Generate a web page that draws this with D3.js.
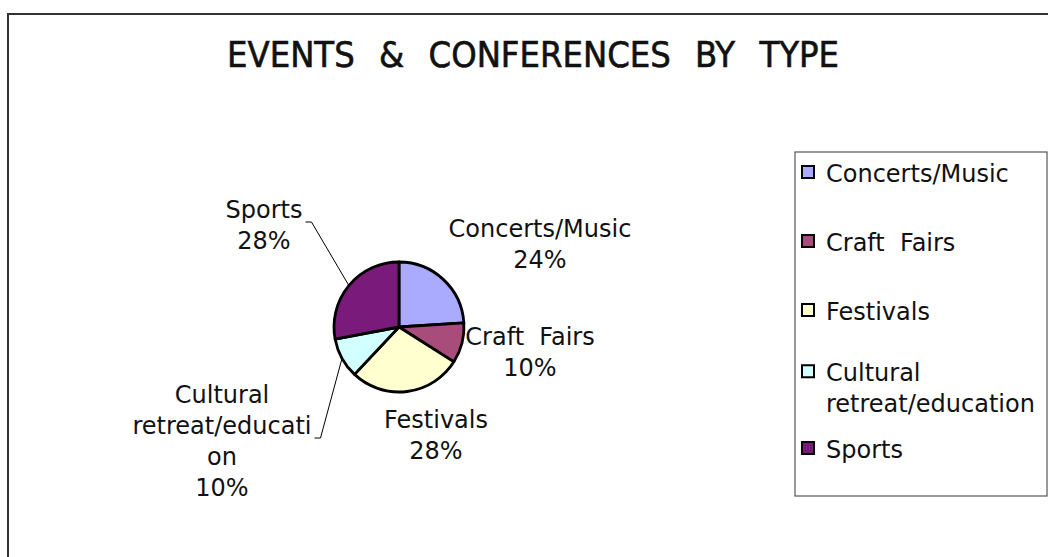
<!DOCTYPE html>
<html>
<head>
<meta charset="utf-8">
<script src="https://cdn.jsdelivr.net/npm/d3@7"></script>
<style>
  html, body { margin: 0; padding: 0; background: #fff; }
  svg { display: block; }
  text { fill: #111; white-space: pre; }
  .lbl { font-family: "DejaVu Sans", Verdana, sans-serif; font-size: 24px; }
  .title { font-family: "Liberation Sans Narrow", "DejaVu Sans Condensed", "Arial Narrow", sans-serif; font-size: 36px; }
</style>
</head>
<body>
<svg id="chart" width="1048" height="557"></svg>
<script>
const title = "EVENTS & CONFERENCES BY TYPE";
const categories = ["Concerts/Music", "Craft  Fairs", "Festivals", "Cultural retreat/education", "Sports"];
const shares = [24, 10, 28, 10, 28];
// wrapped text as it appears next to the slices and in the legend
const sliceLabelLines = [["Concerts/Music"], ["Craft  Fairs"], ["Festivals"], ["Cultural", "retreat/educati", "on"], ["Sports"]];
const legendLines = [["Concerts/Music"], ["Craft  Fairs"], ["Festivals"], ["Cultural", "retreat/education"], ["Sports"]];
const sliceColors = ["#aaaaff", "#a84d7b", "#ffffd0", "#d2ffff", "#7a1a7a"];

const svg = d3.select("#chart");
const W = 1048, H = 557;

// chart frame, runs off the right/bottom of the window
svg.append("rect")
  .attr("x", 8).attr("y", 14)
  .attr("width", W + 20).attr("height", H + 20)
  .attr("fill", "#fff").attr("stroke", "#333").attr("stroke-width", 2);

svg.append("text")
  .attr("class", "title")
  .attr("x", 533).attr("y", 67)
  .attr("text-anchor", "middle")
  .style("word-spacing", "14px")
  .style("stroke", "#111").style("stroke-width", 0.6)
  .text(title);

// pie
const cx = 399, cy = 327, r = 65;
const pie = d3.pie().sort(null).value(d => d);
const arcs = pie(shares);
const arc = d3.arc().innerRadius(0).outerRadius(r);
const edgeArc = d3.arc().innerRadius(r).outerRadius(r);

const g = svg.append("g").attr("transform", `translate(${cx},${cy})`);
g.selectAll("path.slice")
  .data(arcs)
  .join("path")
  .attr("class", "slice")
  .attr("d", arc)
  .attr("fill", (d, i) => sliceColors[i])
  .attr("stroke", "#000")
  .attr("stroke-width", 2.8)
  .attr("stroke-linejoin", "round");

// label placement relative to the pie centre (first baseline, centred)
const labelOffsets = [[141, -90], [131, 18], [37, 101], [-177, 76], [-135, -109]];
const withLeader = [false, false, false, true, true];
const lineH = 31;

arcs.forEach((d, i) => {
  const lines = sliceLabelLines[i].concat([d3.format(".0f")(shares[i]) + "%"]);
  const [ox, oy] = labelOffsets[i];
  const t = g.append("text").attr("class", "lbl").attr("text-anchor", "middle");
  const spans = lines.map((s, k) => t.append("tspan")
    .attr("x", ox).attr("y", oy + k * lineH).text(s));

  if (withLeader[i]) {
    // leader from the widest label line to the slice edge
    let wi = 0, ww = 0;
    spans.forEach((sp, k) => {
      const w = sp.node().getComputedTextLength();
      if (w > ww) { ww = w; wi = k; }
    });
    const x0 = ox + ww / 2 + 3, y0 = oy + wi * lineH + 4;
    const [ex, ey] = edgeArc.centroid(d);
    g.append("path")
      .attr("d", d3.line()([[x0, y0], [x0 + 6, y0], [ex, ey]]))
      .attr("fill", "none").attr("stroke", "#000").attr("stroke-width", 1);
  }
});

// legend
const lg = svg.append("g");
lg.append("rect")
  .attr("x", 795).attr("y", 152).attr("width", 252).attr("height", 344)
  .attr("fill", "#fff").attr("stroke", "#555").attr("stroke-width", 1.2);

const slot = d3.scalePoint().domain(d3.range(categories.length)).range([182, 458]);
categories.forEach((c, i) => {
  const lines = legendLines[i];
  const base = slot(i) - (lines.length - 1) * lineH / 4;
  lg.append("rect")
    .attr("x", 802).attr("y", base - 16).attr("width", 12).attr("height", 12)
    .attr("fill", sliceColors[i]).attr("stroke", "#000").attr("stroke-width", 2);
  const t = lg.append("text").attr("class", "lbl");
  lines.forEach((s, k) => t.append("tspan").attr("x", 826).attr("y", base + k * lineH).text(s));
});
</script>
</body>
</html>
